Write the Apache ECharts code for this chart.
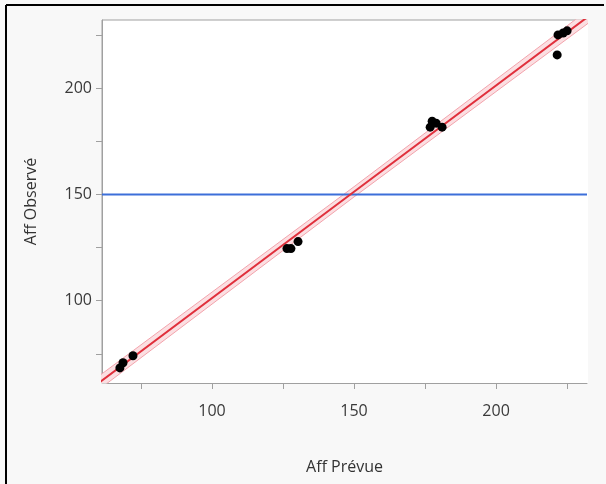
<!DOCTYPE html>
<html><head><meta charset="utf-8">
<script src="https://cdn.jsdelivr.net/npm/echarts@6/dist/echarts.min.js"></script>
<style>html,body{margin:0;padding:0;background:#f8f8f8}#c{width:606px;height:484px}</style>
</head><body><div id="c"></div>
<script>
// data
const predicted = [67.6, 68.7, 72.2, 126.4, 127.8, 130.3, 177.5, 178.9, 181.0, 176.8, 221.8, 223.6, 225.0, 221.5];
const observed  = [68.4, 70.8, 74.1, 124.5, 124.5, 127.8, 184.4, 183.5, 181.6, 181.6, 225.0, 225.9, 226.9, 215.6];
const fitX = [55, 150, 240];
const fitY = [56.2, 151.2, 241.2];
const bandLow = [53.0, 148.8, 238.0];
const bandHigh = [59.4, 153.6, 244.4];
const meanY = 150;
const axisMin = 61.3, axisMax = 232;
const xTicks = [75, 100, 125, 150, 175, 200, 225];
const xLabels = [100, 150, 200];
const yTicks = [75, 100, 125, 150, 175, 200, 225];
const yLabels = [100, 150, 200];

const chart = echarts.init(document.getElementById('c'));
const font = '"Open Sans", "Noto Sans", sans-serif';
const axisCommon = {
  type: 'value', min: axisMin, max: axisMax,
  nameLocation: 'middle',
  nameTextStyle: {color: '#333', fontSize: 16, fontFamily: font},
  axisLine: {show: true, lineStyle: {color: '#a0a0a0', width: 1}},
  splitLine: {show: false},
  axisTick: {show: true, length: 6, lineStyle: {color: '#a0a0a0'}},
  axisLabel: {color: '#3a3a3a', fontSize: 16, fontFamily: font}
};
chart.setOption({
  backgroundColor: '#f8f8f8',
  animation: false,
  grid: {left: 102, top: 20, right: 19, bottom: 101, show: true, backgroundColor: '#ffffff', borderColor: '#a0a0a0', borderWidth: 1},
  xAxis: Object.assign({}, axisCommon, {
    name: 'Aff Prévue', nameGap: 76,
    axisTick: Object.assign({}, axisCommon.axisTick, {customValues: xTicks}),
    axisLabel: Object.assign({}, axisCommon.axisLabel, {customValues: xLabels, margin: 20})
  }),
  yAxis: Object.assign({}, axisCommon, {
    name: 'Aff Observé', nameGap: 63,
    axisTick: Object.assign({}, axisCommon.axisTick, {customValues: yTicks}),
    axisLabel: Object.assign({}, axisCommon.axisLabel, {customValues: yLabels, margin: 10})
  }),
  graphic: [
    {type: 'line', shape: {x1: 6, y1: 5, x2: 6, y2: 484}, style: {stroke: '#000', lineWidth: 2}, z: 100},
    {type: 'line', shape: {x1: 6, y1: 5, x2: 604, y2: 5}, style: {stroke: '#000', lineWidth: 2}, z: 100}
  ],
  series: [
    {type: 'line', data: fitX.map((x, i) => [x, bandHigh[i]]), symbol: 'none',
     lineStyle: {color: '#f3a3ac', width: 1}, areaStyle: {color: '#fbdfe2', opacity: 1, origin: 'start'}, clip: true, z: 1},
    {type: 'line', data: fitX.map((x, i) => [x, bandLow[i]]), symbol: 'none',
     lineStyle: {color: '#f3a3ac', width: 1}, areaStyle: {color: '#ffffff', opacity: 1, origin: 'start'}, clip: true, z: 1},
    {type: 'line', data: [[axisMin, meanY], [axisMax, meanY]], symbol: 'none',
     lineStyle: {color: '#3c6fd9', width: 2}, clip: true, z: 2},
    {type: 'line', data: fitX.map((x, i) => [x, fitY[i]]), symbol: 'none',
     lineStyle: {color: '#e0303c', width: 2}, clip: true, z: 3},
    {type: 'scatter', data: predicted.map((x, i) => [x, observed[i]]), symbolSize: 9,
     itemStyle: {color: '#000', opacity: 1}, z: 4}
  ]
});
</script></body></html>
